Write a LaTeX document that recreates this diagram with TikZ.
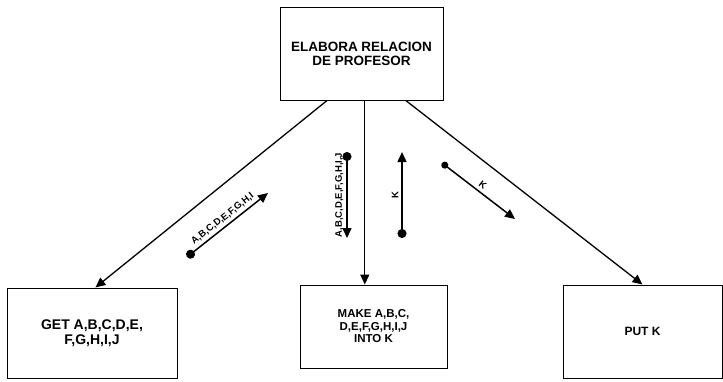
\documentclass[tikz,border=0pt]{standalone}
\usepackage{fontspec}
\setmainfont{Liberation Sans}
\usetikzlibrary{arrows.meta,positioning,calc}
\tikzset{box/.style={draw, line width=1pt, align=center, inner sep=2pt,
  font=\fontsize{12}{13}\selectfont\bfseries},
  call/.style={-{Triangle[length=10pt,width=9pt]}, line width=1.3pt},
  flow/.style={{Circle[length=9pt]}-{Triangle[length=10pt,width=9pt]}, line width=1.5pt},
  flowlbl/.style={font=\fontsize{9.5}{10}\selectfont\bfseries, inner sep=3pt}}

\begin{document}
\begin{tikzpicture}[x=1pt,y=-1pt]
        \useasboundingbox (0,0) rectangle (723,381);
        \node[box, minimum width=163pt, minimum height=93pt, font=\fontsize{13.5}{14}\selectfont\bfseries] (top) at (361.5, 53.5) {ELABORA RELACION\\DE PROFESOR};
        \node[box, minimum width=170pt, minimum height=90pt, font=\fontsize{14}{15}\selectfont\bfseries] (get) at (92, 333) {GET A,B,C,D,E,\\F,G,H,I,J};
        \node[box, minimum width=147pt, minimum height=83pt, font=\fontsize{11.5}{12.5}\selectfont\bfseries] (make) at (373.5, 326.5) {MAKE A,B,C,\\D,E,F,G,H,I,J\\INTO K};
        \node[box, minimum width=159pt, minimum height=93pt] (put) at (642.5, 331.5) {PUT K};

        % connectors from the top module
        \coordinate (tl) at ($(top.south west)!0.29!(top.south east)$);
        \coordinate (tm) at ($(top.south west)!0.52!(top.south east)$);
        \coordinate (tr) at ($(top.south west)!0.77!(top.south east)$);
        \draw[call] (tl) -- ($(get.north west)!0.52!(get.north east)$);
        \draw[call] (tm) -- (tm |- make.north);
        \draw[call] (tr) -- (put.north);

        % data couples
        \coordinate (a1) at (187, 257);
        \coordinate (a2) at (268, 193);
        \coordinate (b1) at (347, 152);
        \coordinate (b2) at (347, 238);
        \coordinate (c1) at (402, 238);
        \coordinate (c2) at (402, 152);
        \coordinate (d1) at (442, 163);
        \coordinate (d2) at (515, 219);
        \draw[flow] (a1) -- node[flowlbl, sloped, above]{A,B,C,D,E,F,G,H,I} (a2);
        \draw[flow] (b1) -- node[flowlbl, rotate=90, anchor=south]{A,B,C,D,E,F,G,H,I,J} (b2);
        \draw[flow] (c1) -- node[flowlbl, rotate=90, anchor=south]{K} (c2);
        \draw[{Circle[length=7pt]}-{Triangle[length=10pt,width=9pt]}, line width=1.5pt] (d1) -- node[flowlbl, sloped, above]{K} (d2);
\end{tikzpicture}
\end{document}
